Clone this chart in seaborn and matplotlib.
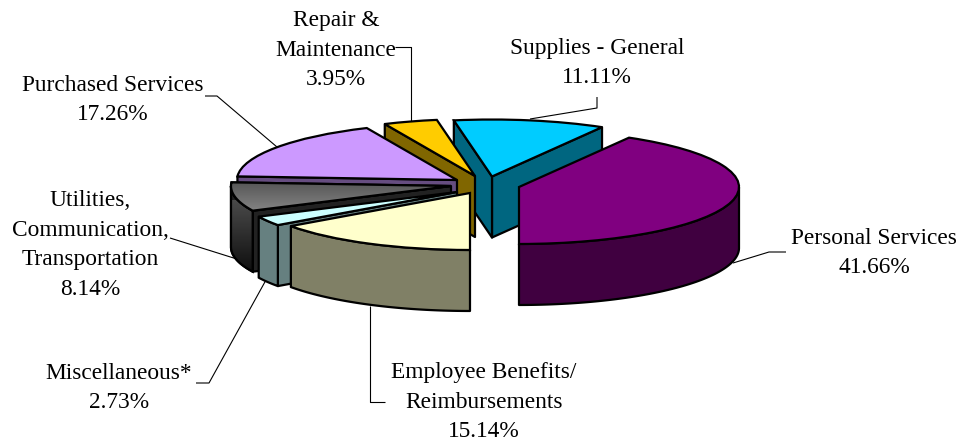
import numpy as np
import matplotlib
matplotlib.use("Agg")
import matplotlib.pyplot as plt
from matplotlib.patches import Polygon
from matplotlib.transforms import Affine2D
import seaborn as sns

categories = ["Personal Services", "Supplies - General", "Repair &\nMaintenance",
              "Purchased Services", "Utilities,\nCommunication,\nTransportation",
              "Miscellaneous*", "Employee Benefits/\nReimbursements"]
shares = [41.66, 11.11, 3.95, 17.26, 8.14, 2.73, 15.14]
top_colors = ["#800080", "#00CCFF", "#FFCC00", "#CC99FF", "#707070", "#CCFFFF", "#FFFFCC"]
side_colors = ["#400040", "#006680", "#806600", "#664D80", "#222222", "#668080", "#808066"]

# layout (pixel space)
apex = [(519, 187), (492, 176.5), (475, 176), (457, 180), (451, 186), (457, 192), (470, 193)]
draw_rank = [6, 0, 1, 2, 3, 4, 5]
RX, SQUASH, DEPTH = 220, 0.259, 61
label_pos = [(874, 253), (597, 63), (336, 50), (113, 100), (90, 245), (119, 388), (484, 402)]
leaders = [[(786, 252), (769, 252), (733, 263)],
           [(597, 97), (597, 108), (530, 119)],
           [(395, 47), (411, 47), (411, 122)],
           [(205, 96), (217, 96), (277, 147)],
           [(170, 238), (240, 260)],
           [(196, 383), (209, 383), (266, 280)],
           [(385, 402), (370, 402), (370, 306)]]

sns.set_style("white")
plt.rcParams["font.family"] = ["Liberation Serif", "DejaVu Serif"]
fig = plt.figure(figsize=(9.6, 4.41), dpi=100, facecolor="white")
ax = fig.add_axes([0, 0, 1, 1])

wedges, _ = ax.pie(shares, colors=top_colors, startangle=270, counterclock=True, radius=RX,
                   wedgeprops=dict(edgecolor="black", linewidth=1.6))


def ell(cx, cy, deg, dz=0.0):
    a = np.radians(deg)
    return np.column_stack([cx + RX * np.cos(a), cy - RX * SQUASH * np.sin(a) + dz])


def gradient(artist, box, c0, c1, z):
    ramp = np.linspace(0, 1, 64)[:, None, None]
    rgb = (1 - ramp) * np.array(matplotlib.colors.to_rgb(c0)) + ramp * np.array(matplotlib.colors.to_rgb(c1))
    im = ax.imshow(rgb, extent=box, aspect="auto", zorder=z, interpolation="bilinear")
    im.set_clip_path(artist)


for w, (cx, cy), rank, side in zip(wedges, apex, draw_rank, side_colors):
    base = 10 + rank * 10
    t1, t2 = w.theta1, w.theta2
    w.set_transform(Affine2D().scale(1, -SQUASH).translate(cx, cy) + ax.transData)
    w.set_zorder(base + 6)
    style = dict(facecolor=side, edgecolor="black", linewidth=1.6, joinstyle="round")
    # radial cut faces that turn toward the viewer
    for t, visible in ((t1, np.sin(np.radians(t1 - 90)) < -1e-6), (t2, np.cos(np.radians(t2)) < -1e-6)):
        if visible:
            p = ell(cx, cy, t)[0]
            ax.add_patch(Polygon([(cx, cy), p, p + (0, DEPTH), (cx, cy + DEPTH)], zorder=base + 1, **style))
    # outer rim, lower half of the ellipse only
    grid = np.linspace(t1, t2, 200)
    grid = grid[np.sin(np.radians(grid)) <= 0]
    rim = None
    if grid.size > 1:
        rim = Polygon(np.vstack([ell(cx, cy, grid), ell(cx, cy, grid[::-1], DEPTH)]), zorder=base + 3, **style)
        ax.add_patch(rim)
    if categories[wedges.index(w)].startswith("Utilities"):
        gradient(rim, (225, 262, 275, 200), "#4a4a4a", "#0c0c0c", base + 4)
        rim_edge = Polygon(rim.get_xy(), closed=True, fill=False, edgecolor="black", linewidth=1.6, zorder=base + 5)
        ax.add_patch(rim_edge)
        gradient(w, (225, 460, 215, 178), "#505050", "#8a8a8a", base + 6.5)
        w_edge = Polygon(np.vstack([[(cx, cy)], ell(cx, cy, np.linspace(t1, t2, 60))]), closed=True,
                         fill=False, edgecolor="black", linewidth=1.6, zorder=base + 7)
        ax.add_patch(w_edge)

for path in leaders:
    xs, ys = zip(*path)
    ax.plot(xs, ys, color="black", lw=0.8, zorder=1, solid_capstyle="butt")

for name, share, (x, y) in zip(categories, shares, label_pos):
    ax.text(x, y, f"{name}\n{share:.2f}%", ha="center", va="center", fontsize=16.8,
            linespacing=1.55, color="black", zorder=100)

ax.set_aspect("auto")
ax.set_xlim(0, 960)
ax.set_ylim(441, 0)
ax.set_axis_off()
fig.savefig("out.png", dpi=100, facecolor="white")
